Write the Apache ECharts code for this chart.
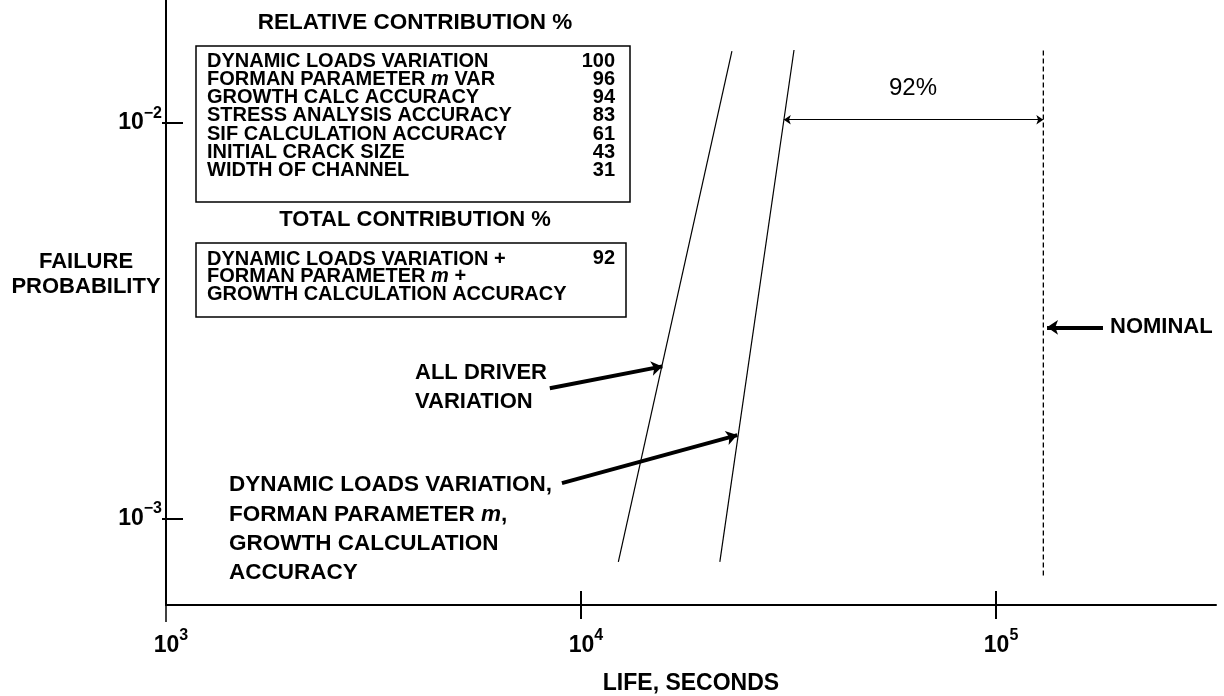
<!DOCTYPE html>
<html>
<head>
<meta charset="utf-8">
<script src="https://cdn.jsdelivr.net/npm/echarts@6/dist/echarts.min.js"></script>
<style>
  html, body { margin: 0; padding: 0; background: #fff; }
  #chart { width: 1224px; height: 696px; }
</style>
</head>
<body>
<div id="chart"></div>
<script>
// Axis ticks (decades) and their exponent labels
const xTickValues = [1e3, 1e4, 1e5];
const xTickExponents = ['3', '4', '5'];
const yTickValues = [1e-3, 1e-2];
const yTickExponents = ['\u22123', '\u22122'];

// Failure-probability curves: [life (s), probability]
const allDriverLine = [[12300, 7.8e-4], [23100, 0.0152]];
const keyDriversLine = [[21600, 7.8e-4], [32600, 0.0153]];
const nominalLine = [[1.3e5, 7.2e-4], [1.3e5, 0.0155]];

// Dimension arrow between the key-driver curve and nominal life
const reductionArrow = [[30800, 0.0102], [1.3e5, 0.0102]];
const reductionLabel = '92%';

// Leader arrows for the curve labels
const allDriverPointer = [[8410, 2.14e-3], [15700, 2.43e-3]];
const keyDriversPointer = [[8995, 1.233e-3], [23800, 1.63e-3]];
const nominalPointer = [[181000, 3.05e-3], [132700, 3.05e-3]];

// Contribution tables
const relativeDrivers = [
  'DYNAMIC LOADS VARIATION',
  'FORMAN PARAMETER {i|m} VAR',
  'GROWTH CALC ACCURACY',
  'STRESS ANALYSIS ACCURACY',
  'SIF CALCULATION ACCURACY',
  'INITIAL CRACK SIZE',
  'WIDTH OF CHANNEL'
];
const relativePercent = [100, 96, 94, 83, 61, 43, 31];
const totalDrivers = [
  'DYNAMIC LOADS VARIATION +',
  'FORMAN PARAMETER {i|m} +',
  'GROWTH CALCULATION ACCURACY'
];
const totalPercent = 92;

const FONT = 'Liberation Sans, Arial, Helvetica, sans-serif';
const xMin = 1e3, xMax = Math.pow(10, 5.53);
const yMin = Math.pow(10, -3.217), yMax = Math.pow(10, -1.689);

function matchIndex(vals, v) {
  return vals.findIndex(t => Math.abs(Math.log10(t) - Math.log10(v)) < 1e-6);
}
const powRich = {
  sp: { width: 10, fontSize: 23, fontFamily: FONT },
  a: { fontSize: 23, fontWeight: 'bold', fontFamily: FONT, color: '#000', lineHeight: 23, verticalAlign: 'middle' },
  b: { fontSize: 16, fontWeight: 'bold', fontFamily: FONT, color: '#000', lineHeight: 16, padding: [0, 0, 20, 0] }
};

function txt(x, y, text, size, align, weight, extra) {
  return {
    type: 'text', x: x, y: y, z: 10,
    style: Object.assign({
      text: text, fontSize: size, fontFamily: FONT, fontWeight: weight || 'bold',
      fill: '#000', align: align || 'left', verticalAlign: 'middle'
    }, extra || {})
  };
}
const italicRich = size => ({ i: { fontSize: size, fontFamily: FONT, fontWeight: 'bold', fontStyle: 'italic', fill: '#000' } });

const graphics = [];
// Relative contribution table
graphics.push(txt(415, 23, 'RELATIVE CONTRIBUTION %', 22.5, 'center'));
graphics.push({ type: 'rect', z: 10, shape: { x: 196, y: 46, width: 434, height: 156 },
  style: { fill: 'none', stroke: '#000', lineWidth: 1.5 } });
relativeDrivers.forEach((d, i) => {
  graphics.push(txt(207, 61 + i * 18.3, d, 20, 'left', 'bold', { rich: italicRich(20) }));
  graphics.push(txt(615, 61 + i * 18.3, String(relativePercent[i]), 20, 'right'));
});
// Total contribution table
graphics.push(txt(415, 220, 'TOTAL CONTRIBUTION %', 22, 'center'));
graphics.push({ type: 'rect', z: 10, shape: { x: 196, y: 243, width: 430, height: 74 },
  style: { fill: 'none', stroke: '#000', lineWidth: 1.5 } });
totalDrivers.forEach((d, i) => {
  graphics.push(txt(207, 259 + i * 17.5, d, 20, 'left', 'bold', { rich: italicRich(20) }));
});
graphics.push(txt(615, 258, String(totalPercent), 20, 'right'));
// Axis title on the left
graphics.push(txt(86, 262, 'FAILURE', 22, 'center'));
graphics.push(txt(86, 287, 'PROBABILITY', 22, 'center'));
// Curve labels
graphics.push(txt(415, 373, 'ALL DRIVER', 22, 'left'));
graphics.push(txt(415, 402, 'VARIATION', 22, 'left'));
['DYNAMIC LOADS VARIATION,', 'FORMAN PARAMETER {i|m},', 'GROWTH CALCULATION', 'ACCURACY'].forEach((t, i) => {
  graphics.push(txt(229, 485 + i * 29.3, t, 22.5, 'left', 'bold', { rich: italicRich(22.5) }));
});
graphics.push(txt(1110, 327, 'NOMINAL', 22, 'left'));
graphics.push(txt(913, 88, reductionLabel, 24, 'center', 'normal'));
// Short continuation of the probability axis below the life axis
graphics.push({ type: 'line', z: 10, shape: { x1: 166, y1: 604, x2: 166, y2: 622 },
  style: { stroke: '#000', lineWidth: 1.5 } });

const chart = echarts.init(document.getElementById('chart'), null, { renderer: 'canvas' });
const axisLineStyle = { color: '#000', width: 2 };

chart.setOption({
  animation: false,
  backgroundColor: '#fff',
  grid: { left: 166, right: 8, top: 0, bottom: 91, containLabel: false, outerBoundsMode: 'none' },
  xAxis: [
    {
      type: 'log', logBase: 10, min: xMin, max: xMax, position: 'bottom',
      name: 'LIFE, SECONDS', nameLocation: 'middle', nameGap: 67,
      nameTextStyle: { fontSize: 23, fontWeight: 'bold', fontFamily: FONT, color: '#000' },
      axisLine: { show: true, lineStyle: axisLineStyle },
      axisTick: { show: true, inside: true, length: 14, customValues: xTickValues.slice(1), lineStyle: axisLineStyle },
      axisLabel: {
        show: true, margin: 29, customValues: xTickValues,
        formatter: v => { const i = matchIndex(xTickValues, v); return i < 0 ? '' : '{sp| }{a|10}{b|' + xTickExponents[i] + '}'; },
        rich: powRich
      },
      splitLine: { show: false }, minorTick: { show: false }
    },
    {
      type: 'log', logBase: 10, min: xMin, max: xMax, position: 'bottom',
      axisLine: { show: false },
      axisTick: { show: true, inside: false, length: 14, customValues: xTickValues.slice(1), lineStyle: axisLineStyle },
      axisLabel: { show: false }, splitLine: { show: false }
    }
  ],
  yAxis: [
    {
      type: 'log', logBase: 10, min: yMin, max: yMax, position: 'left',
      axisLine: { show: true, lineStyle: axisLineStyle },
      axisTick: { show: true, inside: true, length: 17, customValues: yTickValues, lineStyle: axisLineStyle },
      axisLabel: {
        show: true, margin: 4, customValues: yTickValues,
        formatter: v => { const i = matchIndex(yTickValues, v); return i < 0 ? '' : '{a|10}{b|' + yTickExponents[i] + '}'; },
        rich: powRich
      },
      splitLine: { show: false }, minorTick: { show: false }
    },
    {
      type: 'log', logBase: 10, min: yMin, max: yMax, position: 'left',
      axisLine: { show: false },
      axisTick: { show: true, inside: false, length: 4, customValues: yTickValues, lineStyle: axisLineStyle },
      axisLabel: { show: false }, splitLine: { show: false }
    }
  ],
  series: [
    { type: 'line', data: allDriverLine, symbol: 'none', lineStyle: { color: '#000', width: 1.2 }, z: 3 },
    { type: 'line', data: keyDriversLine, symbol: 'none', lineStyle: { color: '#000', width: 1.2 }, z: 3 },
    { type: 'line', data: nominalLine, symbol: 'none', lineStyle: { color: '#000', width: 1.3, type: [5, 3] }, z: 3 },
    {
      type: 'lines', coordinateSystem: 'cartesian2d', z: 4,
      symbol: ['arrow', 'arrow'], symbolSize: 7,
      lineStyle: { color: '#000', width: 1.2, opacity: 1, curveness: 0 },
      data: [{ coords: reductionArrow }]
    },
    {
      type: 'lines', coordinateSystem: 'cartesian2d', z: 4,
      symbol: ['none', 'arrow'], symbolSize: 11,
      lineStyle: { color: '#000', width: 4, opacity: 1, curveness: 0 },
      data: [{ coords: allDriverPointer }, { coords: keyDriversPointer }, { coords: nominalPointer }]
    }
  ],
  graphic: graphics
});
</script>
</body>
</html>
